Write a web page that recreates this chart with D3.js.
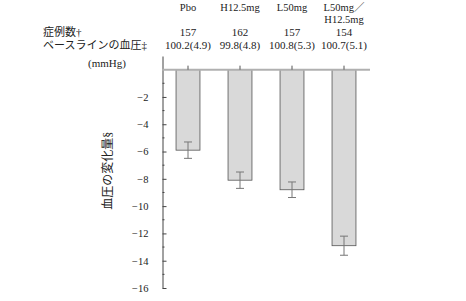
<!DOCTYPE html>
<html>
<head>
<meta charset="utf-8">
<script src="https://cdn.jsdelivr.net/npm/d3@7"></script>
<style>
  body { margin: 0; background: #fff; }
  text { font-family: "Liberation Serif", "Noto Sans CJK JP", serif; fill: #222; }
</style>
</head>
<body>
<div id="chart"></div>
<script>
// groups and values
let groups = ["Pbo", "H12.5mg", "L50mg", "L50mg/H12.5mg"];
let groupLabels = [["Pbo"], ["H12.5mg"], ["L50mg"], ["L50mg／", "H12.5mg"]];
let nCases = ["157", "162", "157", "154"];
let baseline = ["100.2(4.9)", "99.8(4.8)", "100.8(5.3)", "100.7(5.1)"];
let change = [-5.9, -8.1, -8.8, -12.9];
let errs = [0.6, 0.6, 0.57, 0.7];
let yTicks = [-2, -4, -6, -8, -10, -12, -14, -16];
let yMinor = [-1, -3, -5, -7, -9, -11, -13, -15];

let width = 466, height = 301;

let svg = d3.select("#chart").append("svg")
    .attr("width", width)
    .attr("height", height);

// scales
let x = d3.scaleBand()
    .domain(groups)
    .range([162, 370])
    .paddingInner(0.54)
    .paddingOuter(0.27);

let y = d3.scaleLinear()
    .domain([1, -16])
    .range([56, 288]);

// row labels
svg.append("text").attr("x", 43).attr("y", 36).attr("font-size", 11).text("症例数†");
svg.append("text").attr("x", 43).attr("y", 49).attr("font-size", 11).text("ベースラインの血圧‡");
svg.append("text").attr("x", 107).attr("y", 67).attr("font-size", 11)
    .attr("text-anchor", "middle").text("(mmHg)");

// column headers
groups.forEach((g, i) => {
    let cx = x(g) + x.bandwidth() / 2;
    groupLabels[i].forEach((t, j) => {
        svg.append("text")
            .attr("x", cx)
            .attr("y", 11 + j * 12)
            .attr("font-size", 10.5)
            .attr("text-anchor", "middle")
            .text(t);
    });
    svg.append("text").attr("x", cx).attr("y", 36).attr("font-size", 11)
        .attr("text-anchor", "middle").text(nCases[i]);
    svg.append("text").attr("x", cx).attr("y", 49).attr("font-size", 11)
        .attr("text-anchor", "middle").text(baseline[i]);
});

// y axis (ticks pointing inward)
let yAxis = d3.axisLeft(y).tickValues(yTicks).tickSizeInner(-4).tickSizeOuter(0)
    .tickFormat(d => "\u2212" + Math.abs(d));
let yg = svg.append("g").attr("transform", "translate(162.5,0)").call(yAxis);
yg.select(".domain").attr("stroke", "#444");
yg.selectAll(".tick line").attr("stroke", "#444");
yg.selectAll(".tick text").attr("x", -14).attr("font-size", 10.5);

yg.selectAll(".minor").data(yMinor).enter().append("line")
    .attr("class", "minor")
    .attr("x1", 0).attr("x2", 2)
    .attr("y1", d => y(d)).attr("y2", d => y(d))
    .attr("stroke", "#444");

// y axis title
svg.append("text")
    .attr("transform", "translate(112," + y(-7.4) + ") rotate(-90)")
    .attr("text-anchor", "middle")
    .attr("font-size", 12)
    .text("血圧の変化量§");

// bars
svg.selectAll(".bar").data(change).enter().append("rect")
    .attr("class", "bar")
    .attr("x", (d, i) => x(groups[i]))
    .attr("y", y(0))
    .attr("width", x.bandwidth())
    .attr("height", d => y(d) - y(0))
    .attr("fill", "#d9d9d9")
    .attr("stroke", "#555")
    .attr("stroke-width", 0.8);

// zero line
svg.append("line")
    .attr("x1", 162).attr("x2", 370)
    .attr("y1", y(0)).attr("y2", y(0))
    .attr("stroke", "#b0b0b0").attr("stroke-width", 2);

// small ticks at group centers
groups.forEach(g => {
    let cx = x(g) + x.bandwidth() / 2;
    svg.append("line").attr("x1", cx).attr("x2", cx)
        .attr("y1", y(0) - 4).attr("y2", y(0))
        .attr("stroke", "#555");
});

// error bars
change.forEach((d, i) => {
    let cx = x(groups[i]) + x.bandwidth() / 2;
    let g = svg.append("g").attr("stroke", "#777").attr("stroke-width", 1);
    g.append("line").attr("x1", cx).attr("x2", cx).attr("y1", y(d + errs[i])).attr("y2", y(d - errs[i]));
    g.append("line").attr("x1", cx - 4).attr("x2", cx + 4).attr("y1", y(d + errs[i])).attr("y2", y(d + errs[i]));
    g.append("line").attr("x1", cx - 4).attr("x2", cx + 4).attr("y1", y(d - errs[i])).attr("y2", y(d - errs[i]));
});
</script>
</body>
</html>
